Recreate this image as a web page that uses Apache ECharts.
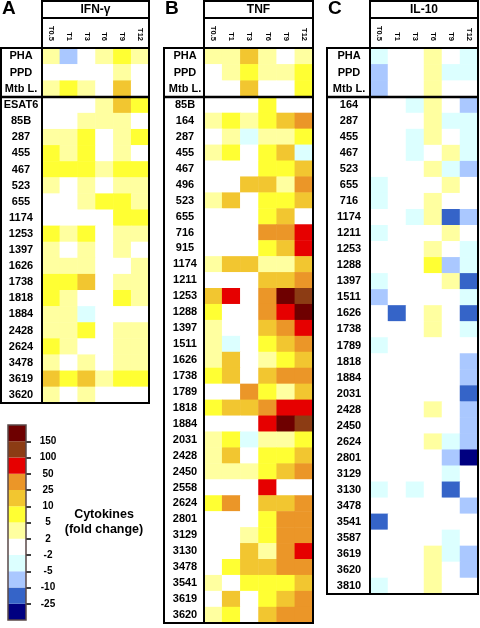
<!DOCTYPE html>
<html><head><meta charset="utf-8">
<script src="https://cdn.jsdelivr.net/npm/echarts@6/dist/echarts.min.js"></script>
<style>html,body{margin:0;padding:0;background:#fff}#c{width:480px;height:628px}</style>
</head><body><div id="c"></div>
<script>
// ---------- DATA (fold change) ----------
const timepoints = ['T0.5','T1','T3','T6','T9','T12'];
const stimuli = ['PHA','PPD','Mtb L.'];

// A: IFN-gamma
const ifnStimValues = [
  [3,-7,0,3,7,3],
  [0,0,0,0,3,0],
  [3,7,3,0,15,0]
];
const ifnPeptides = ['ESAT6','85B','287','455','467','523','655','1174','1253','1397','1626','1738','1818','1884','2428','2624','3478','3619','3620'];
const ifnPeptideValues = [
  [0,0,0,3,15,7],
  [0,0,3,3,3,0],
  [3,3,7,0,3,7],
  [7,3,7,0,3,0],
  [7,7,7,3,7,7],
  [3,0,3,0,3,3],
  [0,0,3,7,7,3],
  [0,0,0,0,7,7],
  [7,3,7,0,3,3],
  [3,0,3,0,3,0],
  [3,3,3,0,0,3],
  [7,7,15,0,3,3],
  [7,3,0,0,7,3],
  [3,3,-3,0,0,0],
  [3,3,7,0,3,3],
  [7,3,0,0,3,3],
  [3,0,3,0,3,3],
  [15,7,15,3,7,7],
  [3,0,3,0,0,0]
];

// B: TNF
const tnfStimValues = [
  [3,3,15,3,0,3],
  [0,3,7,3,3,7],
  [0,0,15,0,0,7]
];
const tnfPeptides = ['85B','164','287','455','467','496','523','655','716','915','1174','1211','1253','1288','1397','1511','1626','1738','1789','1818','1884','2031','2428','2450','2558','2624','2801','3129','3130','3478','3541','3619','3620'];
const tnfPeptideValues = [
  [0,0,0,7,0,0],
  [3,7,3,7,15,35],
  [0,3,-3,3,3,7],
  [3,7,0,7,15,-3],
  [0,0,0,7,7,15],
  [0,0,15,15,3,35],
  [3,15,0,7,7,15],
  [0,0,0,7,15,0],
  [0,0,0,35,35,70],
  [0,0,0,7,15,70],
  [3,15,15,3,3,15],
  [0,0,0,15,15,35],
  [15,70,0,35,170,120],
  [7,0,0,35,70,170],
  [3,0,0,15,35,70],
  [3,-3,0,7,15,35],
  [3,15,0,3,7,15],
  [7,15,0,15,35,35],
  [0,0,35,7,3,15],
  [7,15,15,35,70,70],
  [0,0,0,70,170,120],
  [3,7,-3,3,3,7],
  [3,15,0,7,7,15],
  [3,3,3,7,15,35],
  [0,0,0,70,0,0],
  [7,35,0,15,15,35],
  [0,0,0,7,35,35],
  [0,0,3,7,35,35],
  [0,0,15,3,35,70],
  [0,7,15,15,35,35],
  [3,0,7,7,7,15],
  [0,15,0,7,15,35],
  [3,7,0,15,35,35]
];

// C: IL-10
const il10StimValues = [
  [-3,0,0,3,0,-3],
  [-7,0,0,3,-3,-3],
  [-7,0,0,3,0,0]
];
const il10Peptides = ['164','287','455','467','523','655','716','1174','1211','1253','1288','1397','1511','1626','1738','1789','1818','1884','2031','2428','2450','2624','2801','3129','3130','3478','3541','3587','3619','3620','3810'];
const il10PeptideValues = [
  [0,0,-3,3,0,-7],
  [0,0,0,3,-3,-3],
  [0,0,-3,3,0,-3],
  [0,0,-3,0,3,-3],
  [0,0,0,3,-3,-7],
  [-3,0,0,0,3,0],
  [-3,0,0,3,0,0],
  [0,0,-3,3,-15,-7],
  [-3,0,0,0,3,0],
  [0,0,0,3,0,-3],
  [0,0,0,7,-7,-3],
  [-3,0,0,0,3,-15],
  [-7,0,0,0,0,-3],
  [0,-15,0,3,0,-15],
  [0,0,0,3,0,-3],
  [-3,0,0,0,0,0],
  [0,0,0,0,0,-7],
  [0,0,0,0,0,-7],
  [0,0,0,0,0,-15],
  [0,0,0,3,0,-7],
  [0,0,0,0,0,-7],
  [0,0,0,3,-3,-7],
  [0,0,0,0,-7,-30],
  [0,0,0,0,-3,0],
  [-3,0,-3,0,-15,0],
  [0,0,0,0,0,-7],
  [-15,0,0,0,0,0],
  [0,0,0,0,-3,0],
  [0,0,0,3,-3,-7],
  [0,0,0,3,0,-7],
  [-3,0,0,3,0,0]
];

// Legend scale
const legendTicks = ['-25','-10','-5','-2','2','5','10','25','50','100','150']; // bottom -> top
const legendColors = ['#000080','#3564c8','#aac8ff','#dcffff','#ffffff','#ffffa0','#ffff33','#f2c630','#eb9628','#e60000','#8c3c14','#6e0000']; // bottom -> top
const legendBounds = [-25,-10,-5,-2,2,5,10,25,50,100,150];

// ---------- LAYOUT ----------
const FONT = '"Liberation Sans", Arial, Helvetica, sans-serif';
const panels = [
  {letter:'A', title:'IFN-\u03b3', tl:1,   gl:42,  gr:149, bottom:403, stim:ifnStimValues,  pep:ifnPeptides,  pepVals:ifnPeptideValues, lblMargin:21},
  {letter:'B', title:'TNF',        tl:164, gl:204, gr:313, bottom:623, stim:tnfStimValues,  pep:tnfPeptides,  pepVals:tnfPeptideValues, lblMargin:19},
  {letter:'C', title:'IL-10',      tl:327, gl:370, gr:478, bottom:594, stim:il10StimValues, pep:il10Peptides, pepVals:il10PeptideValues, lblMargin:21}
];
const TOP = 48, MID = 97;

// visual pieces from legend bounds & colors
const pieces = [];
pieces.push({lt: legendBounds[0], color: legendColors[0]});
for (let i = 0; i < legendBounds.length - 1; i++) {
  const lo = legendBounds[i], hi = legendBounds[i+1];
  const p = {color: legendColors[i+1]};
  if (lo < 0 && hi <= 2 && lo !== -2) { p.gte = lo; p.lt = hi; }
  else if (lo === -2) { p.gte = lo; p.lte = hi; }
  else { p.gt = lo; p.lte = hi; }
  pieces.push(p);
}
pieces.push({gt: legendBounds[legendBounds.length-1], color: legendColors[legendColors.length-1]});

const grid = [], xAxis = [], yAxis = [], series = [], graphic = [];
const toCells = rows => rows.flatMap((row, r) => row.map((v, c) => [c, r, v]));
const labelStyle = {fontFamily: FONT, fontWeight: 'bold', fontSize: 11, color: '#000'};

panels.forEach((p, i) => {
  const w = p.gr - p.gl;
  grid.push({left: p.gl, top: TOP, width: w, height: MID - TOP});
  grid.push({left: p.gl, top: MID, width: w, height: p.bottom - MID});
  const gi = grid.length - 2;
  xAxis.push({gridIndex: gi, type: 'category', data: timepoints, position: 'top',
    axisLine: {show: false}, axisTick: {show: false}, splitLine: {show: false},
    axisLabel: {interval: 0, rotate: 90, margin: 7, fontFamily: FONT, fontWeight: 'bold', fontSize: 7.5, color: '#000'}});
  xAxis.push({gridIndex: gi + 1, type: 'category', data: timepoints, show: false});
  yAxis.push({gridIndex: gi, type: 'category', data: stimuli, inverse: true,
    axisLine: {show: false}, axisTick: {show: false}, splitLine: {show: false},
    axisLabel: Object.assign({interval: 0, margin: p.lblMargin, align: 'center'}, labelStyle)});
  yAxis.push({gridIndex: gi + 1, type: 'category', data: p.pep, inverse: true,
    axisLine: {show: false}, axisTick: {show: false}, splitLine: {show: false},
    axisLabel: Object.assign({interval: 0, margin: p.lblMargin, align: 'center'}, labelStyle)});
  series.push({type: 'heatmap', xAxisIndex: gi, yAxisIndex: gi, data: toCells(p.stim), silent: true, progressive: 0, emphasis: {disabled: true}, itemStyle: {borderWidth: 0}});
  series.push({type: 'heatmap', xAxisIndex: gi + 1, yAxisIndex: gi + 1, data: toCells(p.pepVals), silent: true, progressive: 0, emphasis: {disabled: true}, itemStyle: {borderWidth: 0}});

  // frames
  const st = {fill: 'none', stroke: '#000', lineWidth: 2};
  graphic.push({type: 'rect', z: 100, shape: {x: p.gl, y: 1, width: w, height: 17}, style: st});
  graphic.push({type: 'rect', z: 100, shape: {x: p.gl, y: 18, width: w, height: TOP - 18}, style: st});
  graphic.push({type: 'rect', z: 100, shape: {x: p.tl, y: TOP, width: p.gr - p.tl, height: p.bottom - TOP}, style: st});
  graphic.push({type: 'line', z: 100, shape: {x1: p.tl, y1: MID, x2: p.gr, y2: MID}, style: {stroke: '#000', lineWidth: 2.5}});
  graphic.push({type: 'line', z: 100, shape: {x1: p.gl, y1: TOP, x2: p.gl, y2: p.bottom}, style: {stroke: '#000', lineWidth: 2}});
  graphic.push({type: 'text', z: 100, x: (p.gl + p.gr) / 2, y: 10,
    style: {text: p.title, fontFamily: FONT, fontWeight: 'bold', fontSize: 12, fill: '#000', align: 'center', verticalAlign: 'middle'}});
  graphic.push({type: 'text', z: 100, x: p.tl + 1, y: 9,
    style: {text: p.letter, fontFamily: FONT, fontWeight: 'bold', fontSize: 19, fill: '#000', align: 'left', verticalAlign: 'middle'}});
});

// legend colour bar (stacked unit bars)
grid.push({left: 8, top: 425, width: 18, height: 195});
const lg = grid.length - 1;
xAxis.push({gridIndex: lg, type: 'category', data: ['scale'], show: false});
const tickVals = legendTicks.map((_, k) => k + 1);
yAxis.push({gridIndex: lg, type: 'value', min: 0, max: legendColors.length, interval: 1, position: 'right',
  axisLine: {show: false}, splitLine: {show: false},
  axisTick: {show: true, length: 5, customValues: tickVals, lineStyle: {color: '#000', width: 1.5}},
  axisLabel: {margin: 22, align: 'center', customValues: tickVals, fontFamily: FONT, fontWeight: 'bold', fontSize: 10, color: '#000',
    formatter: v => (v >= 1 && v <= legendTicks.length) ? legendTicks[v - 1] : ''}});
legendColors.forEach(c => {
  series.push({type: 'bar', xAxisIndex: lg, yAxisIndex: lg, stack: 'scale', data: [1], barWidth: '100%', silent: true,
    itemStyle: {color: c}, emphasis: {disabled: true}});
});
graphic.push({type: 'rect', z: 100, shape: {x: 8, y: 425, width: 18, height: 195}, style: {fill: 'none', stroke: '#5a4848', lineWidth: 1.5}});
graphic.push({type: 'text', z: 100, x: 104, y: 515, style: {text: 'Cytokines', fontFamily: FONT, fontWeight: 'bold', fontSize: 12.5, fill: '#000', align: 'center', verticalAlign: 'middle'}});
graphic.push({type: 'text', z: 100, x: 104, y: 530, style: {text: '(fold change)', fontFamily: FONT, fontWeight: 'bold', fontSize: 12.5, fill: '#000', align: 'center', verticalAlign: 'middle'}});

const heatIdx = [0,1,2,3,4,5];
const chart = echarts.init(document.getElementById('c'), null, {renderer: 'canvas'});
chart.setOption({
  animation: false,
  backgroundColor: '#fff',
  grid, xAxis, yAxis, series, graphic,
  visualMap: {type: 'piecewise', show: false, dimension: 2, seriesIndex: heatIdx, pieces}
});
</script>
</body></html>
